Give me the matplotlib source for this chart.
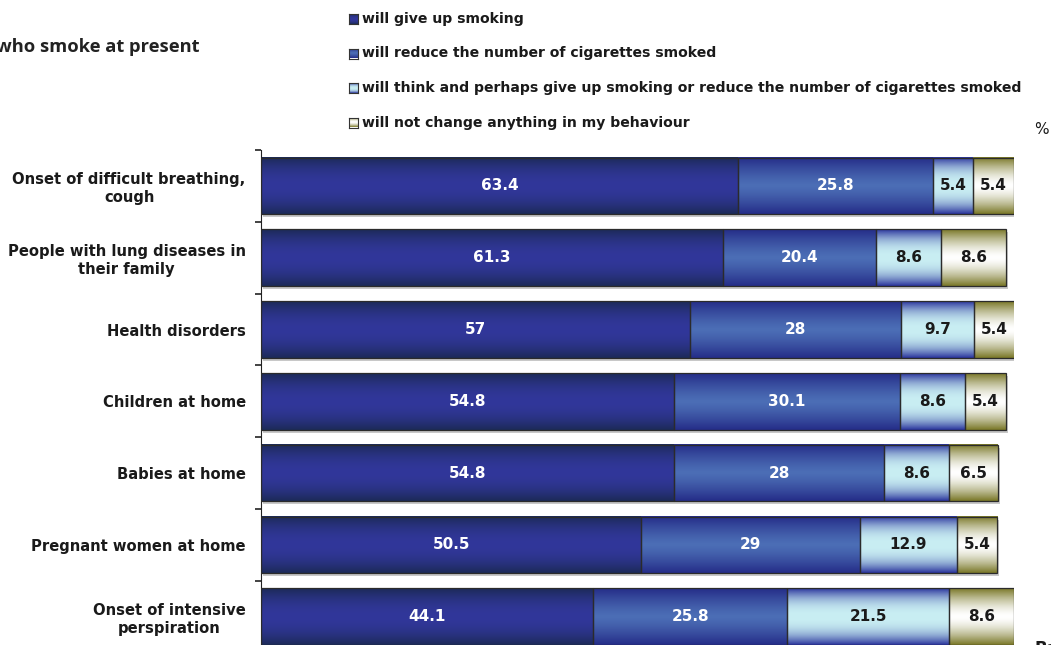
import numpy as np
import matplotlib
matplotlib.use("Agg")
import matplotlib.pyplot as plt
from matplotlib.colors import to_rgb
import matplotlib.transforms as mtransforms

categories = [
    "Onset of difficult breathing,\ncough",
    "People with lung diseases in\ntheir family",
    "Health disorders",
    "Children at home",
    "Babies at home",
    "Pregnant women at home",
    "Onset of intensive\nperspiration",
]
give_up = [63.4, 61.3, 57, 54.8, 54.8, 50.5, 44.1]
reduce = [25.8, 20.4, 28, 30.1, 28, 29, 25.8]
think = [5.4, 8.6, 9.7, 8.6, 8.6, 12.9, 21.5]
no_change = [5.4, 8.6, 5.4, 5.4, 6.5, 5.4, 8.6]
series_names = [
    "will give up smoking",
    "will reduce the number of cigarettes smoked",
    "will think and perhaps give up smoking or reduce the number of cigarettes smoked",
    "will not change anything in my behaviour",
]

# (edge colour, centre colour, exponent of the vertical gradient, label colour)
styles = [
    ("#1c2a58", "#31379a", 2.0, "white"),
    ("#252d88", "#4c6eb6", 1.3, "white"),
    ("#2a349c", "#c9eef3", 2.4, "#1a1a1a"),
    ("#7a7828", "#ffffff", 1.6, "#1a1a1a"),
]

W, H = 1051, 645
fig = plt.figure(figsize=(W / 100, H / 100), dpi=100)
top_px, row_px = 150, 71.8
n = len(categories)
ax = fig.add_axes([261 / W, 1 - (top_px + n * row_px) / H, 753 / W, n * row_px / H])


def gradient_image(edge, centre, p, npx=64):
    t = np.abs(np.linspace(-1, 1, npx)) ** p
    e, c = np.array(to_rgb(edge)), np.array(to_rgb(centre))
    col = c[None, :] + (e - c)[None, :] * t[:, None]
    return col[:, None, :]


y = np.arange(n)
bar_h = 0.79
data = [give_up, reduce, think, no_change]
totals = np.sum(data, axis=0)

# drop shadow under each bar
shadow = mtransforms.offset_copy(ax.transData, fig=fig, x=2, y=-3, units="dots")
ax.barh(y, totals, height=bar_h, color="#c8c8c8", edgecolor="none",
        transform=shadow, zorder=1)

left = np.zeros(n)
for vals, (edge, centre, p, tcol) in zip(data, styles):
    bars = ax.barh(y, vals, left=left, height=bar_h, facecolor="none",
                   edgecolor="#2b2b2b", linewidth=0.9, zorder=3)
    img = gradient_image(edge, centre, p)
    for rect, v in zip(bars.patches, vals):
        x0, y0 = rect.get_x(), rect.get_y()
        w, h = rect.get_width(), rect.get_height()
        ax.imshow(img, extent=(x0, x0 + w, y0 + h, y0), aspect="auto",
                  interpolation="bilinear", zorder=2)
        ax.text(x0 + w / 2, y0 + h / 2, f"{v:g}", ha="center", va="center",
                color=tcol, fontsize=11, fontweight="bold", zorder=4)
    left += np.array(vals)

ax.set_xlim(0, 100)
ax.set_ylim(n - 0.5, -0.5)
for s in ("top", "right", "bottom"):
    ax.spines[s].set_visible(False)
ax.spines["left"].set_color("#222222")
ax.set_xticks([])
ax.set_yticks(np.arange(-0.5, n, 1.0))
ax.set_yticklabels([])
ax.tick_params(axis="y", which="major", length=4.5, width=1.2, color="#222222")
ax.set_yticks(y, minor=True)
ax.set_yticklabels(categories, minor=True, fontsize=10.6, fontweight="bold",
                   color="#1a1a1a", multialignment="center")
ax.tick_params(axis="y", which="minor", length=0, pad=11)

# legend
for i, (name, (edge, centre, p, _)) in enumerate(zip(series_names, styles)):
    yc = 19 + i * 34.5
    sq = fig.add_axes([349 / W, 1 - (yc + 5) / H, 9 / W, 10 / H])
    sq.imshow(gradient_image(edge, centre, p), aspect="auto", interpolation="bilinear")
    sq.set_xticks([]); sq.set_yticks([])
    for sp in sq.spines.values():
        sp.set_color("#333333"); sp.set_linewidth(0.8)
    fig.text(362 / W, 1 - yc / H, name, ha="left", va="center", fontsize=10.1,
             fontweight="bold", color="#1a1a1a")

fig.text(1041 / W, 1 - 130 / H, "%", ha="center", va="center", fontsize=11, color="#1a1a1a")
fig.text(200 / W, 1 - 47 / H, "who smoke at present", ha="right", va="center",
         fontsize=13.2, fontweight="bold", color="#222222", family="Open Sans")
fig.text(1035 / W, 1 - 649 / H, "Base", ha="left", va="center", fontsize=12,
         fontweight="bold", color="#1a1a1a")

fig.savefig("out.png", dpi=100)
